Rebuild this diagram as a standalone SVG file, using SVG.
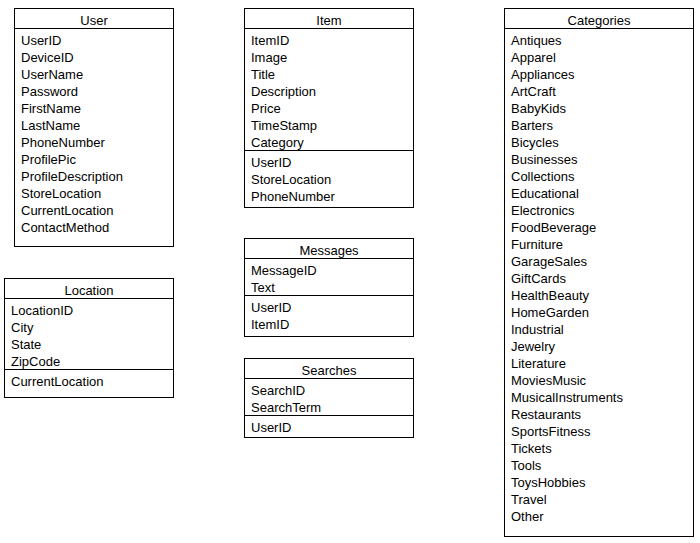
<svg xmlns="http://www.w3.org/2000/svg" width="700" height="543" viewBox="0 0 700 543">
<style>
.box{fill:#fff;stroke:#000;stroke-width:1}
.ln{stroke:#000;stroke-width:1}
text{font-family:"Liberation Sans",Arial,sans-serif;font-size:13px;fill:#000}
.h{text-anchor:middle}
</style>
<rect width="700" height="543" fill="#fff"/>
<g id="connectors"></g>
<g id="User">
<rect class="box" x="14.5" y="8.5" width="159" height="238"/>
<line class="ln" x1="14.5" y1="28.5" x2="173.5" y2="28.5"/>
<text class="h" x="94" y="24.5">User</text>
<text x="21" y="44.5">UserID</text>
<text x="21" y="61.5">DeviceID</text>
<text x="21" y="78.5">UserName</text>
<text x="21" y="95.5">Password</text>
<text x="21" y="112.5">FirstName</text>
<text x="21" y="129.5">LastName</text>
<text x="21" y="146.5">PhoneNumber</text>
<text x="21" y="163.5">ProfilePic</text>
<text x="21" y="180.5">ProfileDescription</text>
<text x="21" y="197.5">StoreLocation</text>
<text x="21" y="214.5">CurrentLocation</text>
<text x="21" y="231.5">ContactMethod</text>
</g>
<g id="Location">
<rect class="box" x="4.5" y="278.5" width="169" height="119"/>
<line class="ln" x1="4.5" y1="298.5" x2="173.5" y2="298.5"/>
<line class="ln" x1="4.5" y1="369.5" x2="173.5" y2="369.5"/>
<text class="h" x="89" y="294.5">Location</text>
<text x="11" y="314.5">LocationID</text>
<text x="11" y="331.5">City</text>
<text x="11" y="348.5">State</text>
<text x="11" y="365.5">ZipCode</text>
<text x="11" y="385.5">CurrentLocation</text>
</g>
<g id="Item">
<rect class="box" x="244.5" y="8.5" width="169" height="199"/>
<line class="ln" x1="244.5" y1="28.5" x2="413.5" y2="28.5"/>
<line class="ln" x1="244.5" y1="150.5" x2="413.5" y2="150.5"/>
<text class="h" x="329" y="24.5">Item</text>
<text x="251" y="44.5">ItemID</text>
<text x="251" y="61.5">Image</text>
<text x="251" y="78.5">Title</text>
<text x="251" y="95.5">Description</text>
<text x="251" y="112.5">Price</text>
<text x="251" y="129.5">TimeStamp</text>
<text x="251" y="146.5">Category</text>
<text x="251" y="166.5">UserID</text>
<text x="251" y="183.5">StoreLocation</text>
<text x="251" y="200.5">PhoneNumber</text>
</g>
<g id="Messages">
<rect class="box" x="244.5" y="238.5" width="169" height="98"/>
<line class="ln" x1="244.5" y1="258.5" x2="413.5" y2="258.5"/>
<line class="ln" x1="244.5" y1="295.5" x2="413.5" y2="295.5"/>
<text class="h" x="329" y="254.5">Messages</text>
<text x="251" y="274.5">MessageID</text>
<text x="251" y="291.5">Text</text>
<text x="251" y="311.5">UserID</text>
<text x="251" y="328.5">ItemID</text>
</g>
<g id="Searches">
<rect class="box" x="244.5" y="358.5" width="169" height="79"/>
<line class="ln" x1="244.5" y1="378.5" x2="413.5" y2="378.5"/>
<line class="ln" x1="244.5" y1="415.5" x2="413.5" y2="415.5"/>
<text class="h" x="329" y="374.5">Searches</text>
<text x="251" y="394.5">SearchID</text>
<text x="251" y="411.5">SearchTerm</text>
<text x="251" y="431.5">UserID</text>
</g>
<g id="Categories">
<rect class="box" x="504.5" y="8.5" width="189" height="528"/>
<line class="ln" x1="504.5" y1="28.5" x2="693.5" y2="28.5"/>
<text class="h" x="599" y="24.5">Categories</text>
<text x="511" y="44.5">Antiques</text>
<text x="511" y="61.5">Apparel</text>
<text x="511" y="78.5">Appliances</text>
<text x="511" y="95.5">ArtCraft</text>
<text x="511" y="112.5">BabyKids</text>
<text x="511" y="129.5">Barters</text>
<text x="511" y="146.5">Bicycles</text>
<text x="511" y="163.5">Businesses</text>
<text x="511" y="180.5">Collections</text>
<text x="511" y="197.5">Educational</text>
<text x="511" y="214.5">Electronics</text>
<text x="511" y="231.5">FoodBeverage</text>
<text x="511" y="248.5">Furniture</text>
<text x="511" y="265.5">GarageSales</text>
<text x="511" y="282.5">GiftCards</text>
<text x="511" y="299.5">HealthBeauty</text>
<text x="511" y="316.5">HomeGarden</text>
<text x="511" y="333.5">Industrial</text>
<text x="511" y="350.5">Jewelry</text>
<text x="511" y="367.5">Literature</text>
<text x="511" y="384.5">MoviesMusic</text>
<text x="511" y="401.5">MusicalInstruments</text>
<text x="511" y="418.5">Restaurants</text>
<text x="511" y="435.5">SportsFitness</text>
<text x="511" y="452.5">Tickets</text>
<text x="511" y="469.5">Tools</text>
<text x="511" y="486.5">ToysHobbies</text>
<text x="511" y="503.5">Travel</text>
<text x="511" y="520.5">Other</text>
</g>
</svg>
